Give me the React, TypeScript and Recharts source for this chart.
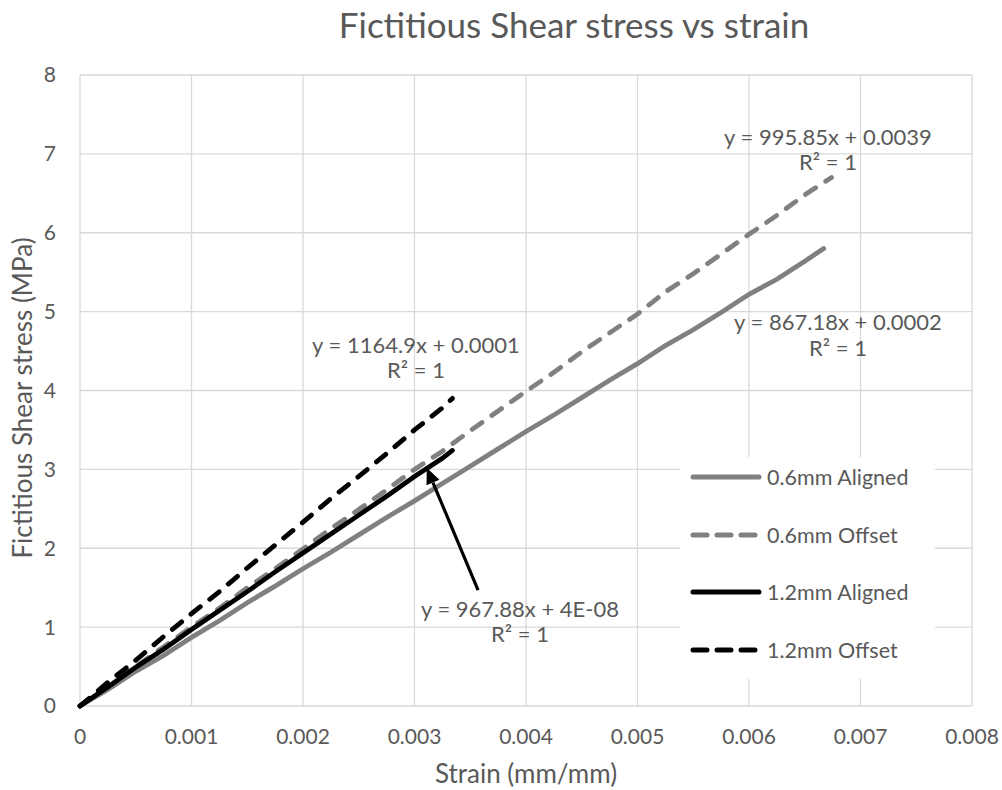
import { LineChart, Line, XAxis, YAxis, CartesianGrid, Legend, ReferenceLine } from "recharts";

const FONT = "Lato, 'Open Sans', sans-serif";
const TEXT = "#595959";

const xTicks = [0, 0.001, 0.002, 0.003, 0.004, 0.005, 0.006, 0.007, 0.008];
const yTicks = [0, 1, 2, 3, 4, 5, 6, 7, 8];

const seriesNames = ["0.6mm Aligned", "0.6mm Offset", "1.2mm Aligned", "1.2mm Offset"];

// 0.6mm aligned
const strainA06 = [
  0, 0.00025, 0.0005, 0.00075, 0.001, 0.00125, 0.0015, 0.00175, 0.002, 0.00225, 0.0025, 0.00275, 0.003, 0.00325,
  0.0035, 0.00375, 0.004, 0.00425, 0.0045, 0.00475, 0.005, 0.00525, 0.0055, 0.00575, 0.006, 0.00625, 0.0065, 0.00667,
];
const stressA06 = [
  0, 0.21, 0.44, 0.64, 0.87, 1.08, 1.31, 1.52, 1.74, 1.95, 2.17, 2.39, 2.6, 2.82, 3.04, 3.26, 3.48, 3.69, 3.91, 4.13,
  4.34, 4.57, 4.77, 4.99, 5.22, 5.41, 5.64, 5.8,
];

// 0.6mm offset
const strainO06 = [
  0, 0.00025, 0.0005, 0.00075, 0.001, 0.00125, 0.0015, 0.00175, 0.002, 0.00225, 0.0025, 0.00275, 0.003, 0.00325,
  0.0035, 0.00375, 0.004, 0.00425, 0.0045, 0.00475, 0.005, 0.00525, 0.0055, 0.00575, 0.006, 0.00625, 0.0065, 0.00674,
];
const stressO06 = [
  0, 0.25, 0.5, 0.75, 1.0, 1.24, 1.5, 1.74, 1.99, 2.25, 2.49, 2.74, 3.0, 3.23, 3.49, 3.74, 3.99, 4.23, 4.49, 4.73,
  4.97, 5.25, 5.48, 5.73, 5.98, 6.22, 6.48, 6.7,
];

// 1.2mm aligned
const strainA12 = [
  0, 0.00025, 0.0005, 0.00075, 0.001, 0.00125, 0.0015, 0.00175, 0.002, 0.00225, 0.0025, 0.00275, 0.003, 0.00325, 0.00334,
];
const stressA12 = [0, 0.24, 0.49, 0.72, 0.97, 1.21, 1.45, 1.7, 1.94, 2.18, 2.42, 2.66, 2.91, 3.14, 3.24];

// 1.2mm offset
const strainO12 = [
  0, 0.00025, 0.0005, 0.00075, 0.001, 0.00125, 0.0015, 0.00175, 0.002, 0.00225, 0.0025, 0.00275, 0.003, 0.00325, 0.00334,
];
const stressO12 = [0, 0.3, 0.58, 0.88, 1.17, 1.45, 1.75, 2.04, 2.33, 2.63, 2.91, 3.2, 3.5, 3.78, 3.9];

// arrow pointing at the 1.2mm aligned trendline label
const arrowTail = { x: 0.00357, y: 1.47 };
const arrowHead = { x: 0.00311, y: 3.02 };

const toPoints = (xs: number[], ys: number[]) => xs.map((x, i) => ({ strain: x, stress: ys[i] }));

const series = [
  { name: seriesNames[0], data: toPoints(strainA06, stressA06), color: "#808080", dash: undefined },
  { name: seriesNames[1], data: toPoints(strainO06, stressO06), color: "#808080", dash: "12 12" },
  { name: seriesNames[2], data: toPoints(strainA12, stressA12), color: "#000000", dash: undefined },
  { name: seriesNames[3], data: toPoints(strainO12, stressO12), color: "#000000", dash: "12 12" },
];

function ArrowShape(props: any) {
  const { x1, y1, x2, y2 } = props;
  const dx = x2 - x1;
  const dy = y2 - y1;
  const len = Math.sqrt(dx * dx + dy * dy);
  const ux = dx / len;
  const uy = dy / len;
  const headLen = 16;
  const headW = 7;
  const bx = x2 - ux * headLen;
  const by = y2 - uy * headLen;
  return (
    <g>
      <line x1={x1} y1={y1} x2={bx} y2={by} stroke="#000" strokeWidth={3.2} />
      <polygon
        points={`${x2},${y2} ${bx - uy * headW},${by + ux * headW} ${bx + uy * headW},${by - ux * headW}`}
        fill="#000"
      />
    </g>
  );
}

function LegendBox() {
  return (
    <div style={{ position: "relative", width: 255, height: 222, background: "#fff" }}>
      {series.map((s, i) => (
        <div
          key={s.name}
          style={{
            position: "absolute",
            left: 10,
            top: 20 + i * 57.7 - 14,
            height: 28,
            display: "flex",
            alignItems: "center",
          }}
        >
          <svg width={72} height={10}>
            <line
              x1={3}
              y1={5}
              x2={69}
              y2={5}
              stroke={s.color}
              strokeWidth={5}
              strokeLinecap="round"
              strokeDasharray={s.dash ? "14 10" : undefined}
            />
          </svg>
          <span style={{ marginLeft: 5, fontFamily: FONT, fontSize: 21.5, color: TEXT, whiteSpace: "nowrap" }}>
            {s.name}
          </span>
        </div>
      ))}
    </div>
  );
}

export default function App() {
  return (
    <div style={{ position: "absolute", left: 0, top: 0, width: 1002, height: 790, background: "#fff" }}>
      <LineChart width={1002} height={790} margin={{ top: 75, right: 30, bottom: 44, left: 0 }}>
        <CartesianGrid stroke="#d9d9d9" strokeWidth={1.3} />
        <XAxis
          dataKey="strain"
          type="number"
          domain={[0, 0.008]}
          ticks={xTicks}
          tickFormatter={(v: number) => (v === 0 ? "0" : v.toFixed(3))}
          axisLine={false}
          tickLine={false}
          tickSize={0}
          tickMargin={23}
          height={40}
          tick={{ fill: TEXT, fontSize: 21, fontFamily: FONT }}
          interval={0}
        />
        <YAxis
          type="number"
          domain={[0, 8]}
          ticks={yTicks}
          axisLine={false}
          tickLine={false}
          tickSize={0}
          tickMargin={24}
          width={80}
          tick={{ fill: TEXT, fontSize: 21, fontFamily: FONT }}
          interval={0}
        />
        {series.map((s) => (
          <Line
            key={s.name}
            name={s.name}
            data={s.data}
            dataKey="stress"
            type="linear"
            stroke={s.color}
            strokeWidth={4.8}
            strokeDasharray={s.dash}
            strokeLinecap="round"
            dot={false}
            activeDot={false}
            isAnimationActive={false}
          />
        ))}
        <ReferenceLine segment={[arrowTail, arrowHead]} shape={ArrowShape} ifOverflow="visible" />
        <Legend
          layout="vertical"
          align="center"
          verticalAlign="middle"
          content={() => <LegendBox />}
          wrapperStyle={{ left: 680, top: 457, width: 255, height: 222 }}
        />
      </LineChart>
      <svg
        width={1002}
        height={790}
        style={{ position: "absolute", left: 0, top: 0, pointerEvents: "none" }}
        fontFamily={FONT}
        fill={TEXT}
      >
        <text x={574} y={38} textAnchor="middle" fontSize={35}>
          Fictitious Shear stress vs strain
        </text>
        <text x={526} y={783} textAnchor="middle" fontSize={26}>
          Strain (mm/mm)
        </text>
        <text x={32} y={398} textAnchor="middle" fontSize={26} transform="rotate(-90 32 398)">
          Fictitious Shear stress (MPa)
        </text>
        <g fontSize={22} textAnchor="middle">
          <text x={828} y={145}>y = 995.85x + 0.0039</text>
          <text x={828} y={170}>R² = 1</text>
          <text x={838} y={330}>y = 867.18x + 0.0002</text>
          <text x={838} y={356}>R² = 1</text>
          <text x={416} y={353}>y = 1164.9x + 0.0001</text>
          <text x={416} y={378}>R² = 1</text>
          <text x={520} y={617}>y = 967.88x + 4E-08</text>
          <text x={520} y={642}>R² = 1</text>
        </g>
      </svg>
    </div>
  );
}
